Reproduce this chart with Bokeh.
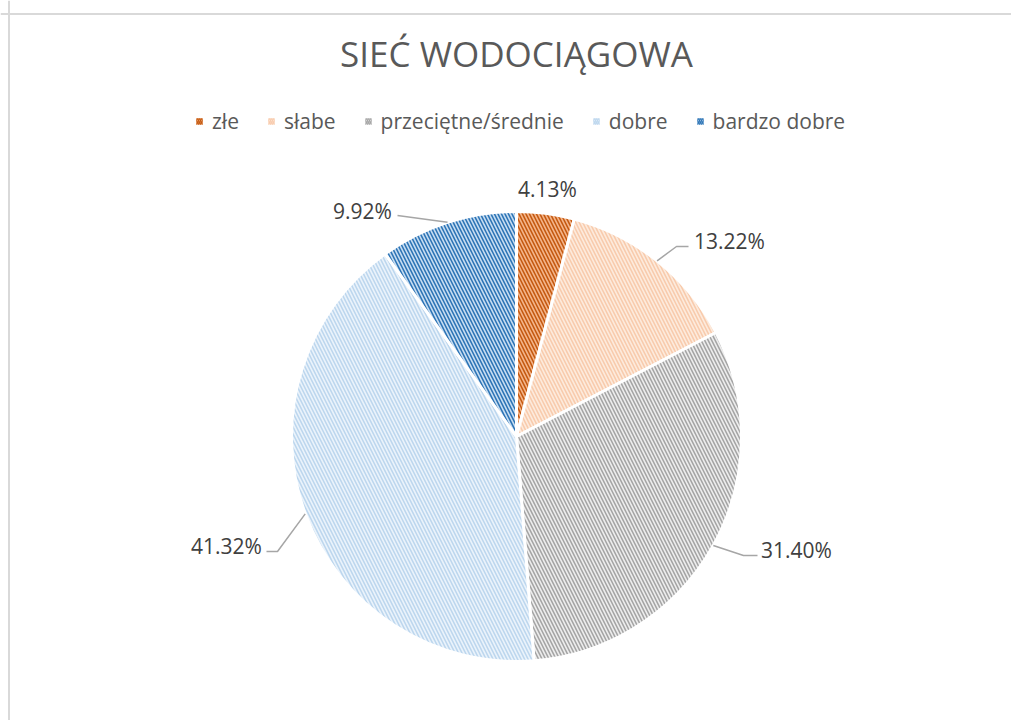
import math
from bokeh.plotting import figure
from bokeh.models import ColumnDataSource, Range1d, Legend, LegendItem, Span
from bokeh.core.properties import value
from bokeh.embed import file_html
from bokeh.resources import INLINE

# ---- data ----
title_text = "SIEĆ WODOCIĄGOWA"
categories = ["złe", "słabe", "przeciętne/średnie", "dobre", "bardzo dobre"]
shares = [4.13, 13.22, 31.40, 41.32, 9.92]
fill_colors = ["#F4B68C", "#FDEBDD", "#EEEEEE", "#EBF3FB", "#C9DEF2"]
hatch_colors = ["#C55A11", "#F8CBAD", "#A5A5A5", "#BDD7EE", "#2E75B6"]

# ---- layout ----
W, H = 1011, 720
FONT = "Open Sans"
TXT = "#595959"


def px(x):
    return x


def py(y):
    return H - y


cx, cy, R = px(516), py(436), 225

# label centres and leader elbows/ends (screen px), per slice; None = no leader
label_pos = [(547, 188), (729, 240), (796, 549), (226, 545), (362, 210)]
leader_pts = [None, ((676, 246), (688, 246)), ((743, 555), (757, 555)),
              ((277, 551), (266, 551)), ((397, 215), (397, 215))]

total = sum(shares)
starts, ends, mids = [], [], []
acc = 0.0
for s in shares:
    a0 = acc / total
    acc += s
    a1 = acc / total
    starts.append(math.pi / 2 - 2 * math.pi * a0)
    ends.append(math.pi / 2 - 2 * math.pi * a1)
    mids.append(2 * math.pi * (a0 + a1) / 2)  # clockwise from top

p = figure(width=W, height=H, output_backend="svg", toolbar_location=None,
           x_range=Range1d(0, W), y_range=Range1d(0, H), min_border=0)
p.axis.visible = False
p.grid.visible = False
p.outline_line_color = None
p.background_fill_color = "white"
p.border_fill_color = "white"

# chart border (left and top edges visible in window)
p.add_layout(Span(location=px(8.5), dimension="height", line_color="#D9D9D9", line_width=2))
p.add_layout(Span(location=py(13.5), dimension="width", line_color="#D9D9D9", line_width=2))

items = []
for i, cat in enumerate(categories):
    src = ColumnDataSource(dict(x=[cx], y=[cy], s=[starts[i]], e=[ends[i]]))
    p.wedge(x="x", y="y", radius=R, start_angle="s", end_angle="e",
            direction="clock", source=src,
            fill_color=fill_colors[i], line_color="white", line_width=3,
            hatch_pattern="\\", hatch_color=hatch_colors[i],
            hatch_scale=7, hatch_weight=1.6)
    # legend swatch proxy (square key, no visible mark in the plot)
    proxy = p.quad(left=[float("nan")], right=[float("nan")],
                   top=[float("nan")], bottom=[float("nan")],
                   fill_color=fill_colors[i], line_color=None,
                   hatch_pattern="\\", hatch_color=hatch_colors[i],
                   hatch_scale=4, hatch_weight=1.6)
    items.append(LegendItem(label=cat, renderers=[proxy]))

# leader lines
for i in range(len(shares)):
    if leader_pts[i] is None:
        continue
    ex = cx + R * math.sin(mids[i])
    ey = cy + R * math.cos(mids[i])
    (bx, by), (tx, ty) = leader_pts[i]
    p.line(x=[ex, px(bx), px(tx)], y=[ey, py(by), py(ty)],
           line_color="#A6A6A6", line_width=1.5)

# percent labels
lab = ColumnDataSource(dict(
    x=[px(a) for a, b in label_pos], y=[py(b) for a, b in label_pos],
    t=["%.2f%%" % s for s in shares]))
p.text(x="x", y="y", text="t", source=lab, text_font=value(FONT),
       text_font_size="21px", text_color="#404040",
       text_align="center", text_baseline="middle")

# title
p.text(x=[px(516)], y=[py(53)], text=[title_text], text_font=value(FONT),
       text_font_size="35px", text_color=TXT,
       text_align="center", text_baseline="middle")

legend = Legend(items=items, orientation="horizontal", location=(195, 585),
                glyph_width=8, glyph_height=8, label_standoff=9, spacing=28,
                label_text_font=FONT, label_text_font_size="21px",
                label_text_color=TXT, background_fill_alpha=0,
                border_line_color=None, padding=0, margin=0)
p.add_layout(legend, "center")

open("out.html", "w").write(file_html(p, INLINE))
